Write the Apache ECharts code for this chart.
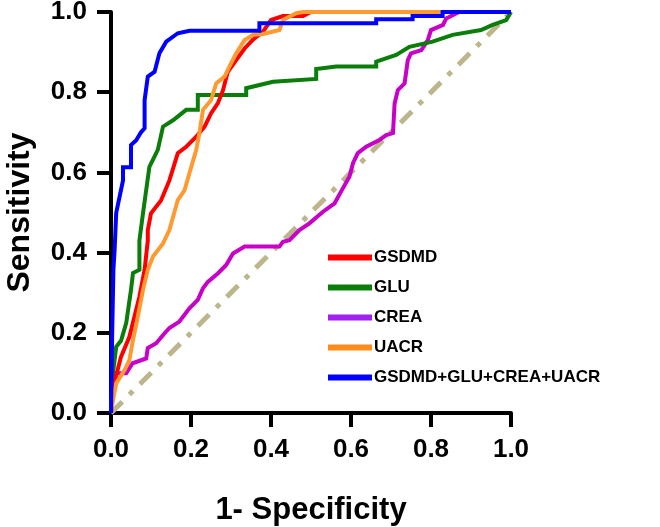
<!DOCTYPE html>
<html>
<head>
<meta charset="utf-8">
<script src="https://cdn.jsdelivr.net/npm/echarts@6/dist/echarts.min.js"></script>
<style>
	html, body {margin: 0; padding: 0; background: #fff;}
	#chart {width: 660px; height: 527px;}
</style>
</head>
<body>
<div id="chart"></div>
<script>
// [1 - specificity, sensitivity] pairs
let gsdmd = [[0, 0], [0.005, 0.05], [0.012, 0.09], [0.025, 0.14], [0.046, 0.19], [0.071, 0.29], [0.084, 0.357], [0.092, 0.43], [0.092, 0.456], [0.1, 0.498], [0.125, 0.53], [0.146, 0.58], [0.167, 0.648], [0.188, 0.664], [0.213, 0.689], [0.234, 0.714], [0.25, 0.747], [0.267, 0.772], [0.28, 0.805], [0.292, 0.851], [0.313, 0.88], [0.334, 0.909], [0.354, 0.93], [0.38, 0.951], [0.4, 0.98], [0.43, 0.99], [0.48, 0.99], [0.5, 1], [1, 1]];
let glu = [[0, 0], [0.005, 0.1], [0.013, 0.165], [0.025, 0.18], [0.038, 0.224], [0.05, 0.307], [0.055, 0.349], [0.071, 0.357], [0.071, 0.43], [0.08, 0.498], [0.096, 0.614], [0.117, 0.656], [0.13, 0.714], [0.155, 0.73], [0.188, 0.756], [0.217, 0.756], [0.217, 0.793], [0.338, 0.793], [0.338, 0.81], [0.405, 0.826], [0.513, 0.833], [0.513, 0.858], [0.563, 0.864], [0.663, 0.864], [0.663, 0.876], [0.713, 0.893], [0.746, 0.913], [0.804, 0.926], [0.854, 0.943], [0.925, 0.955], [0.954, 0.968], [0.988, 0.98], [1, 1]];
let crea = [[0, 0], [0.005, 0.08], [0.013, 0.099], [0.038, 0.099], [0.054, 0.124], [0.088, 0.136], [0.092, 0.162], [0.113, 0.174], [0.134, 0.199], [0.146, 0.212], [0.171, 0.228], [0.196, 0.261], [0.217, 0.282], [0.23, 0.311], [0.242, 0.327], [0.267, 0.348], [0.288, 0.369], [0.305, 0.398], [0.334, 0.415], [0.421, 0.415], [0.43, 0.427], [0.446, 0.431], [0.471, 0.456], [0.496, 0.473], [0.53, 0.502], [0.559, 0.523], [0.575, 0.552], [0.596, 0.589], [0.605, 0.623], [0.617, 0.648], [0.638, 0.664], [0.671, 0.681], [0.688, 0.693], [0.705, 0.698], [0.709, 0.772], [0.717, 0.805], [0.734, 0.822], [0.742, 0.88], [0.75, 0.897], [0.776, 0.905], [0.792, 0.93], [0.8, 0.955], [0.83, 0.968], [0.838, 0.984], [0.854, 0.992], [0.87, 1], [1, 1]];
let uacr = [[0, 0], [0.005, 0.032], [0.013, 0.074], [0.034, 0.107], [0.046, 0.132], [0.055, 0.182], [0.067, 0.24], [0.08, 0.307], [0.092, 0.357], [0.105, 0.39], [0.13, 0.423], [0.146, 0.456], [0.167, 0.531], [0.184, 0.556], [0.196, 0.598], [0.213, 0.656], [0.221, 0.698], [0.23, 0.756], [0.25, 0.78], [0.263, 0.822], [0.284, 0.839], [0.296, 0.864], [0.313, 0.897], [0.334, 0.93], [0.355, 0.943], [0.38, 0.945], [0.421, 0.955], [0.43, 0.98], [0.463, 0.997], [0.48, 1], [1, 1]];
let combined = [[0, 0], [0.003, 0.2], [0.006, 0.357], [0.009, 0.406], [0.013, 0.499], [0.03, 0.58], [0.03, 0.613], [0.05, 0.613], [0.05, 0.668], [0.063, 0.68], [0.075, 0.7], [0.084, 0.71], [0.084, 0.78], [0.092, 0.839], [0.109, 0.851], [0.121, 0.897], [0.138, 0.926], [0.167, 0.947], [0.196, 0.953], [0.371, 0.953], [0.371, 0.972], [0.663, 0.972], [0.663, 0.982], [0.754, 0.982], [0.754, 0.99], [0.829, 0.99], [0.829, 1], [1, 1]];
let chance = [[0, 0], [1, 1]];

let seriesNames = ['GSDMD', 'GLU', 'CREA', 'UACR', 'GSDMD+GLU+CREA+UACR'];
let axisTicks = [0, 0.2, 0.4, 0.6, 0.8, 1.0];

let font = 'Liberation Sans, Arial, sans-serif';

let line = (name, data, color, z) => ({
	name,
	type: 'line',
	data,
	symbol: 'none',
	z,
	lineStyle: {color, width: 4, join: 'miter'},
	itemStyle: {color},
});

let axis = (nameText, nameGap, nameSize) => ({
	type: 'value',
	min: axisTicks[0],
	max: axisTicks[axisTicks.length - 1],
	interval: 0.2,
	name: nameText,
	nameLocation: 'middle',
	nameGap,
	nameTextStyle: {fontFamily: font, fontWeight: 'bold', fontSize: nameSize, color: '#000'},
	axisLine: {show: true, lineStyle: {color: '#000', width: 4}},
	axisTick: {show: true, inside: false, length: 14, lineStyle: {color: '#000', width: 4}},
	axisLabel: {
		fontFamily: font,
		fontWeight: 'bold',
		fontSize: 26,
		color: '#000',
		margin: 24,
		formatter: (v) => v.toFixed(1),
	},
	splitLine: {show: false},
});

let chart = echarts.init(document.getElementById('chart'), null, {renderer: 'canvas'});

chart.setOption({
	animation: false,
	backgroundColor: '#fff',
	grid: {left: 111, top: 12, right: 149, bottom: 114, containLabel: false, outerBoundsMode: 'none'},
	xAxis: axis('1- Specificity', 82, 31),
	yAxis: axis('Sensitivity', 75, 32),
	legend: {
		orient: 'vertical',
		left: 323,
		top: 244,
		itemWidth: 44,
		itemHeight: 6,
		itemGap: 13,
		icon: 'rect',
		textStyle: {fontFamily: font, fontWeight: 'bold', fontSize: 17, color: '#000', padding: [0, 0, 0, -3]},
		data: [
			{name: 'GSDMD'},
			{name: 'GLU'},
			{name: 'CREA', itemStyle: {color: '#A020F0'}},
			{name: 'UACR', itemStyle: {color: '#FF8C1A'}},
			{name: 'GSDMD+GLU+CREA+UACR'},
		],
	},
	series: [
		{
			type: 'line',
			data: chance,
			symbol: 'none',
			silent: true,
			z: 1,
			lineStyle: {color: '#BDB58C', width: 5, type: [16, 10, 5, 10]},
		},
		line(seriesNames[2], crea, '#C800C8', 2),
		line(seriesNames[1], glu, '#0A7D0A', 3),
		line(seriesNames[0], gsdmd, '#FF0000', 4),
		line(seriesNames[3], uacr, '#FF9A30', 5),
		line(seriesNames[4], combined, '#0000FF', 6),
	],
});
</script>
</body>
</html>
